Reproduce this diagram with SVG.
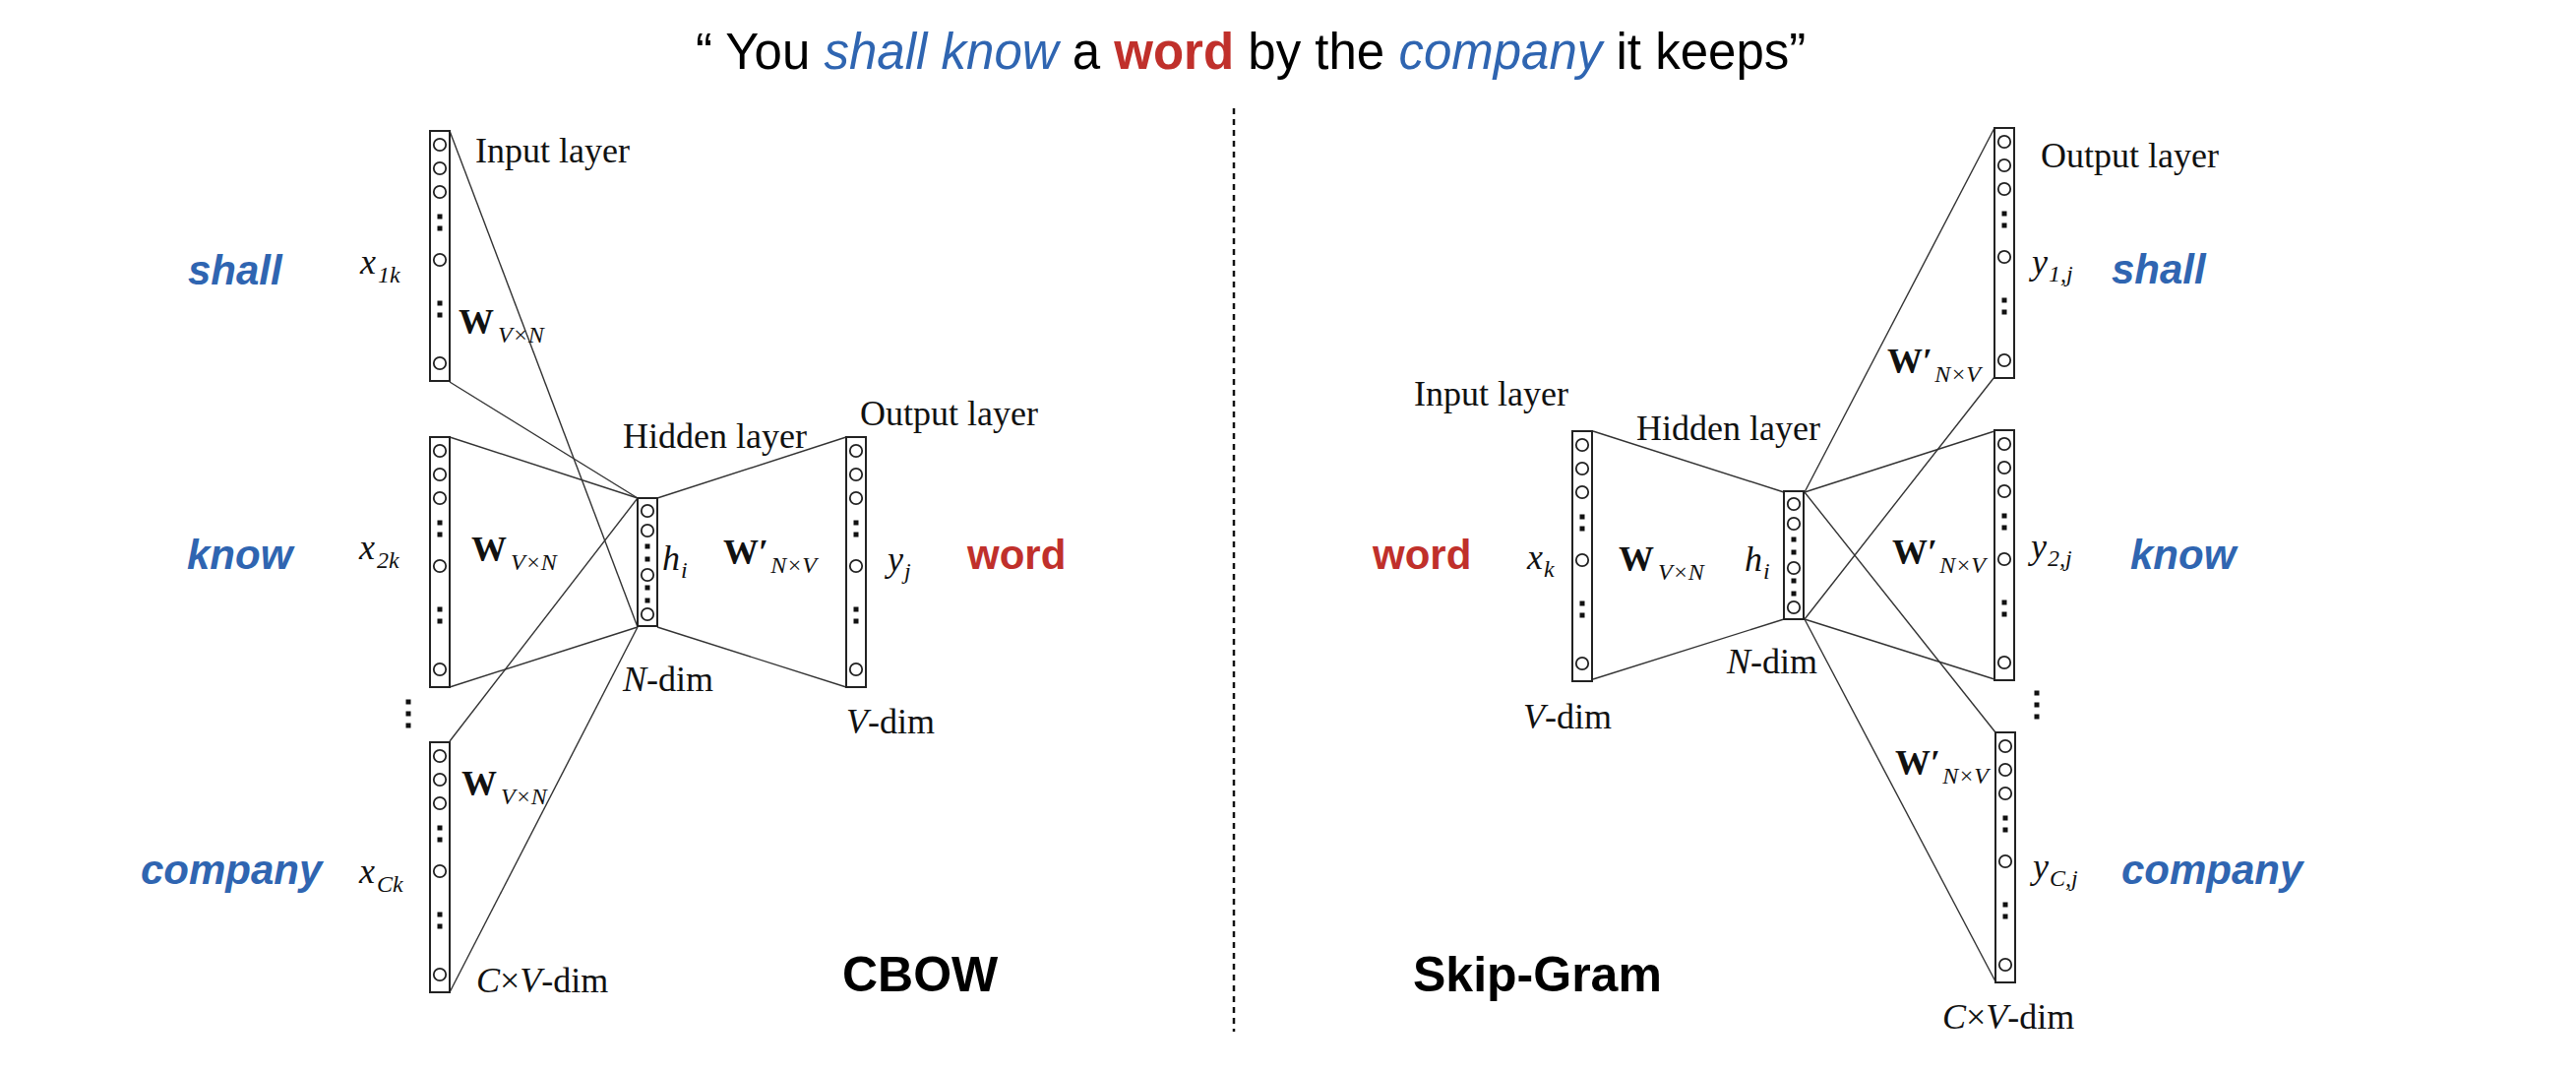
<svg xmlns="http://www.w3.org/2000/svg" xmlns:xlink="http://www.w3.org/1999/xlink" width="2618" height="1090" viewBox="0 0 2618 1090">
<style>
.bg{fill:#ffffff}
.box{fill:#ffffff;stroke:#222;stroke-width:2}
.cir{fill:none;stroke:#222;stroke-width:1.8}
.sq{fill:#111}
.con{stroke:#333;stroke-width:1.4;fill:none}
.tm{font-family:"Liberation Serif","Times New Roman",serif;font-size:36px;fill:#111}
.it{font-style:italic}
.sub{font-size:24px;font-style:italic}
.wb{font-weight:bold}
.title{font-family:"Liberation Sans",Arial,sans-serif;font-size:51px;fill:#000}
.blue{fill:#2F65B1}
.red{fill:#C0302B}
.word{font-family:"Liberation Sans",Arial,sans-serif;font-size:42px;font-weight:bold}
.bi{font-style:italic}
.big{font-family:"Liberation Sans",Arial,sans-serif;font-size:50px;font-weight:bold;fill:#000}
.div{stroke:#111;stroke-width:2.5;stroke-dasharray:6 5}
</style>
<defs>
<g id="tall">
<rect class="box" x="0" y="0" width="20" height="254"/>
<circle class="cir" cx="10" cy="14" r="6.2"/>
<circle class="cir" cx="10" cy="38" r="6.2"/>
<circle class="cir" cx="10" cy="62" r="6.2"/>
<rect class="sq" x="7.5" y="84.5" width="5" height="5"/>
<rect class="sq" x="7.5" y="96.5" width="5" height="5"/>
<circle class="cir" cx="10" cy="131" r="6.2"/>
<rect class="sq" x="7.5" y="172.5" width="5" height="5"/>
<rect class="sq" x="7.5" y="184.5" width="5" height="5"/>
<circle class="cir" cx="10" cy="236" r="6.2"/>
</g>
<g id="hid">
<rect class="box" x="0" y="0" width="20" height="130"/>
<circle class="cir" cx="10" cy="13" r="6.2"/>
<circle class="cir" cx="10" cy="33" r="6.2"/>
<rect class="sq" x="7.5" y="46.5" width="5" height="5"/>
<rect class="sq" x="7.5" y="59.5" width="5" height="5"/>
<circle class="cir" cx="10" cy="78" r="6.2"/>
<rect class="sq" x="7.5" y="88.5" width="5" height="5"/>
<rect class="sq" x="7.5" y="101.5" width="5" height="5"/>
<circle class="cir" cx="10" cy="118" r="6.2"/>
</g>
<g id="vdots">
<rect class="sq" x="-2.5" y="-2.5" width="5" height="5"/>
<rect class="sq" x="-2.5" y="9.5" width="5" height="5"/>
<rect class="sq" x="-2.5" y="21.5" width="5" height="5"/>
</g>
</defs>
<rect class="bg" x="0" y="0" width="2618" height="1090"/>

<g id="title">
<text class="title" x="707" y="70">“ You <tspan class="blue" font-style="italic">shall know</tspan> a <tspan class="red" font-weight="bold">word</tspan> by the <tspan class="blue" font-style="italic">company</tspan> it keeps”</text>
</g>

<g id="divider"><line class="div" x1="1254" y1="110" x2="1254" y2="1048"/></g>

<g id="connectors">
<line class="con" x1="457" y1="133" x2="648" y2="637"/>
<line class="con" x1="457" y1="388" x2="648" y2="506"/>
<line class="con" x1="457" y1="444" x2="648" y2="506"/>
<line class="con" x1="457" y1="698" x2="648" y2="637"/>
<line class="con" x1="457" y1="753" x2="648" y2="506"/>
<line class="con" x1="457" y1="1008" x2="648" y2="637"/>
<line class="con" x1="668" y1="506" x2="860" y2="444"/>
<line class="con" x1="668" y1="637" x2="860" y2="698"/>
<line class="con" x1="1619" y1="438" x2="1813" y2="500"/>
<line class="con" x1="1619" y1="690" x2="1813" y2="629"/>
<line class="con" x1="1834" y1="500" x2="2027" y2="130"/>
<line class="con" x1="1834" y1="629" x2="2027" y2="383"/>
<line class="con" x1="1834" y1="500" x2="2027" y2="438"/>
<line class="con" x1="1834" y1="629" x2="2027" y2="690"/>
<line class="con" x1="1834" y1="500" x2="2028" y2="744"/>
<line class="con" x1="1834" y1="629" x2="2028" y2="997"/>
</g>

<!-- CBOW -->
<g id="cbow-in1"><use xlink:href="#tall" x="437" y="133"/>
<text class="tm" x="483" y="165">Input layer</text>
<text class="tm it" x="366" y="278">x<tspan class="sub" dx="2" dy="9">1k</tspan></text>
<text class="tm wb" x="466" y="339">W<tspan class="sub" font-weight="normal" dx="4" dy="9">V×N</tspan></text>
</g>
<g id="cbow-in2"><use xlink:href="#tall" x="437" y="444"/>
<text class="tm it" x="365" y="568">x<tspan class="sub" dx="2" dy="9">2k</tspan></text>
<text class="tm wb" x="479" y="570">W<tspan class="sub" font-weight="normal" dx="4" dy="9">V×N</tspan></text>
</g>
<g id="cbow-dots"><use xlink:href="#vdots" x="415" y="713"/></g>
<g id="cbow-in3"><use xlink:href="#tall" x="437" y="754"/>
<text class="tm it" x="365" y="897">x<tspan class="sub" dx="2" dy="9">Ck</tspan></text>
<text class="tm wb" x="469" y="808">W<tspan class="sub" font-weight="normal" dx="4" dy="9">V×N</tspan></text>
<text class="tm" x="484" y="1008"><tspan class="it">C</tspan>×<tspan class="it">V</tspan>-dim</text>
</g>
<g id="cbow-hidden"><use xlink:href="#hid" x="648" y="506"/>
<text class="tm" x="633" y="455">Hidden layer</text>
<text class="tm it" x="673" y="579">h<tspan class="sub" dx="1" dy="8">i</tspan></text>
<text class="tm" x="633" y="702"><tspan class="it">N</tspan>-dim</text>
<text class="tm wb" x="735" y="573">W′<tspan class="sub" font-weight="normal" dx="2" dy="9">N×V</tspan></text>
</g>
<g id="cbow-out"><use xlink:href="#tall" x="860" y="444"/>
<text class="tm" x="874" y="432">Output layer</text>
<text class="tm it" x="902" y="580">y<tspan class="sub" dx="1" dy="8">j</tspan></text>
<text class="tm" x="860" y="745"><tspan class="it">V</tspan>-dim</text>
</g>
<g id="cbow-words">
<text class="word blue bi" x="191" y="289">shall</text>
<text class="word blue bi" x="190" y="578">know</text>
<text class="word blue bi" x="143" y="898">company</text>
<text class="word red" x="983" y="578">word</text>
<text class="big" x="856" y="1007">CBOW</text>
</g>

<!-- Skip-Gram -->
<g id="sg-in"><use xlink:href="#tall" x="1598" y="438"/>
<text class="tm" x="1437" y="412">Input layer</text>
<text class="tm it" x="1552" y="578">x<tspan class="sub" dx="1" dy="8">k</tspan></text>
<text class="tm wb" x="1645" y="580">W<tspan class="sub" font-weight="normal" dx="4" dy="9">V×N</tspan></text>
<text class="tm" x="1548" y="740"><tspan class="it">V</tspan>-dim</text>
<text class="word red" x="1395" y="578">word</text>
</g>
<g id="sg-hidden"><use xlink:href="#hid" x="1813" y="499"/>
<text class="tm" x="1663" y="447">Hidden layer</text>
<text class="tm it" x="1773" y="580">h<tspan class="sub" dx="1" dy="8">i</tspan></text>
<text class="tm" x="1755" y="684"><tspan class="it">N</tspan>-dim</text>
</g>
<g id="sg-out1"><use xlink:href="#tall" x="2027" y="130"/>
<text class="tm" x="2074" y="170">Output layer</text>
<text class="tm it" x="2065" y="278">y<tspan class="sub" dx="1" dy="8">1,j</tspan></text>
<text class="tm wb" x="1918" y="379">W′<tspan class="sub" font-weight="normal" dx="2" dy="9">N×V</tspan></text>
<text class="word blue bi" x="2146" y="288">shall</text>
</g>
<g id="sg-out2"><use xlink:href="#tall" x="2027" y="437"/>
<text class="tm it" x="2064" y="567">y<tspan class="sub" dx="1" dy="8">2,j</tspan></text>
<text class="tm wb" x="1923" y="573">W′<tspan class="sub" font-weight="normal" dx="2" dy="9">N×V</tspan></text>
<text class="word blue bi" x="2165" y="578">know</text>
</g>
<g id="sg-dots"><use xlink:href="#vdots" x="2070" y="704"/></g>
<g id="sg-out3"><use xlink:href="#tall" x="2028" y="744"/>
<text class="tm it" x="2066" y="892">y<tspan class="sub" dx="1" dy="8">C,j</tspan></text>
<text class="tm wb" x="1926" y="787">W′<tspan class="sub" font-weight="normal" dx="2" dy="9">N×V</tspan></text>
<text class="tm" x="1974" y="1045"><tspan class="it">C</tspan>×<tspan class="it">V</tspan>-dim</text>
<text class="word blue bi" x="2156" y="898">company</text>
<text class="big" x="1436" y="1007">Skip-Gram</text>
</g>
</svg>
